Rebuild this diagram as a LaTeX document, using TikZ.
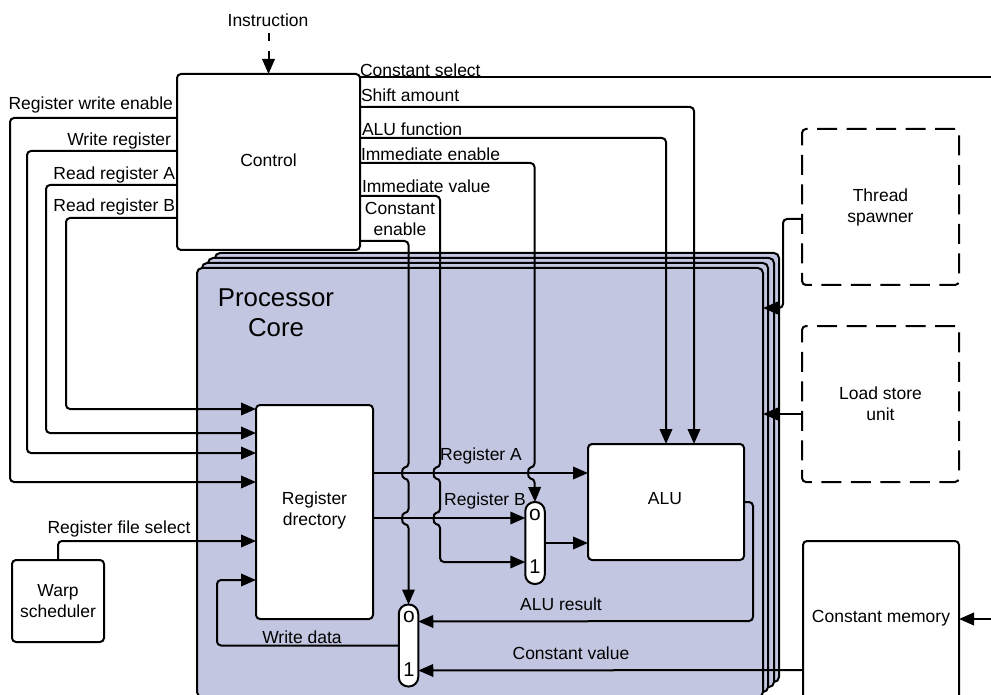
\documentclass[tikz,border=0pt]{standalone}
\usepackage{fontspec}
\setmainfont{Liberation Sans}
\usetikzlibrary{arrows.meta}
\definecolor{corefill}{HTML}{C3C6E0}
\tikzset{
  lab/.style={inner sep=0pt,outer sep=0pt,font=\fontsize{17.5}{21}\selectfont,align=center,text=black},
  box/.style={draw=black,fill=white,line width=2pt,rounded corners=4pt,outer sep=0pt,inner sep=0pt,
     font=\fontsize{17.5}{21}\selectfont,align=center},
  dbox/.style={box,dash pattern=on 20pt off 9.5pt},
  muxbox/.style={draw=black,fill=white,line width=2pt,rounded corners=9.4pt,outer sep=0pt,inner sep=0pt,
     minimum width=19.5pt,minimum height=82pt},
  layer/.style={draw=black,fill=corefill,line width=2pt,rounded corners=5pt},
  coreb/.style={layer,outer sep=0pt,inner sep=0pt},
  wire/.style={draw=black,line width=2pt,rounded corners=4pt},
  awire/.style={wire,-{Triangle[length=15pt,width=12.5pt]}},
}
\begin{document}
\begin{tikzpicture}[x=1pt,y=-1pt]
\clip (0,0) rectangle (991,695);
\fill[white] (0,0) rectangle (991,695);
% stacked layers
\draw[layer] (215,253) rectangle (779,682);
\draw[layer] (208,258) rectangle (774,687);
\draw[layer] (202,263) rectangle (768,692);
\node[coreb,minimum width=566pt,minimum height=429pt] (core) at (480,482.5) {};
\node[lab,font=\fontsize{25.8}{30}\selectfont] (coretitle) at (276,313) {Processor\\Core};
% boxes
\node[box,minimum width=183pt,minimum height=176pt] (ctrl) at (268.5,162) {};
\node[lab] (ctrltxt) at (268.5,160) {Control};
\node[box,minimum width=117pt,minimum height=214pt] (regd) at (314.5,512) {};
\node[lab] (regtxt) at (314.5,510) {Register\\drectory};
\node[box,minimum width=156pt,minimum height=116pt] (alu) at (666,502) {};
\node[lab] (alutxt) at (665,499) {ALU};
\node[box,minimum width=92pt,minimum height=82pt] (warp) at (58,601) {Warp\\scheduler};
\node[dbox,minimum width=157pt,minimum height=156pt] (ts) at (880.5,207) {Thread\\spawner};
\node[dbox,minimum width=157pt,minimum height=156pt] (ls) at (880.5,404) {Load store\\unit};
\node[box,minimum width=156pt,minimum height=160pt] (cm) at (881,621) {};
\node[lab] (cmtxt) at (881,618) {Constant memory};
\node[muxbox] (muxa) at (535,543) {};
\node[muxbox] (muxb) at (408.5,645.5) {};
\node[lab,font=\fontsize{21}{21}\selectfont] (muxa0) at (535,515) {o};
\node[lab,font=\fontsize{20}{21}\selectfont] (muxa1) at (535,567) {1};
\node[lab,font=\fontsize{21}{21}\selectfont] (muxb0) at (409,617) {o};
\node[lab,font=\fontsize{20}{21}\selectfont] (muxb1) at (409,670) {1};
% free ends
\node[lab,anchor=center] (instr) at (268,20) {Instruction};
\coordinate (instrtop) at (268.5,33);
\coordinate (csend) at (991,77);
\coordinate (cmin) at (991,619);
% top connectors
\draw[awire,rounded corners=0pt,dash pattern=on 8pt off 10pt] (instrtop) -- (ctrl.north);
\draw[wire] ([yshift=-3pt]ctrl.north east) -- (csend);
\draw[awire] ([yshift=-33pt]ctrl.north east) -- (694,107) -- (694,444);
\draw[awire] ([yshift=-64pt]ctrl.north east) -- (666,138) -- (alu.north);
\draw[awire] ([yshift=-89pt]ctrl.north east) -- (534.5,163) -- (534.5,467.5)
   .. controls +(-7.3,0) and +(-7.3,0) .. +(0,11) -- (muxa.north);
\draw[awire] ([yshift=-122pt]ctrl.north east) -- (440,196) -- (440,467.5)
   .. controls +(-7.3,0) and +(-7.3,0) .. +(0,11) -- (440,513)
   .. controls +(-7.3,0) and +(-7.3,0) .. +(0,11) -- (440,562) -- ([yshift=-60pt]muxa.north west);
\draw[awire] ([yshift=-167pt]ctrl.north east) -- (408.5,241) -- (408.5,467.5)
   .. controls +(-7.3,0) and +(-7.3,0) .. +(0,11) -- (408.5,513)
   .. controls +(-7.3,0) and +(-7.3,0) .. +(0,11) -- (muxb.north);
% left connectors
\draw[awire] ([yshift=-44pt]ctrl.north west) -- (10,118) -- (10,482) -- ([yshift=-77pt]regd.north west);
\draw[awire] ([yshift=-77pt]ctrl.north west) -- (27,151) -- (27,453) -- ([yshift=-48pt]regd.north west);
\draw[awire] ([yshift=-111pt]ctrl.north west) -- (46,185) -- (46,433) -- ([yshift=-28pt]regd.north west);
\draw[awire] ([yshift=-144pt]ctrl.north west) -- (66,218) -- (66,409) -- ([yshift=-4pt]regd.north west);
\draw[awire] (warp.north) -- (58,541) -- ([yshift=-136pt]regd.north west);
% datapath
\draw[awire] ([yshift=-68pt]regd.north east) -- ([yshift=-29pt]alu.north west);
\draw[awire] ([yshift=-113pt]regd.north east) -- ([yshift=-16pt]muxa.north west);
\draw[awire] (muxa.east) -- ([yshift=-99pt]alu.north west);
\draw[awire] ([yshift=-58pt]alu.north east) -- (753,502) -- (753,621) -- ([yshift=-17pt]muxb.north east);
\draw[awire] ([yshift=-129pt]cm.north west) -- ([yshift=-66pt]muxb.north east);
\draw[awire] (muxb.west) -- (217,645.5) -- (217,580) -- ([yshift=-175pt]regd.north west);
% side connectors
\draw[awire] ([yshift=-12pt]ts.west) -- (783,219) -- (783,308) -- ([yshift=-40pt]core.north east);
\draw[awire] ([yshift=-10pt]ls.west) -- ([yshift=-146pt]core.north east);
\draw[awire] (cmin) -- ([yshift=-78pt]cm.north east);
% labels
\node[lab,anchor=west] (l1) at (360,70) {Constant select};
\node[lab,anchor=west] (l2) at (361,95) {Shift amount};
\node[lab,anchor=west] (l3) at (362,129) {ALU function};
\node[lab,anchor=west] (l4) at (361,154) {Immediate enable};
\node[lab,anchor=west] (l5) at (362,186) {Immediate value};
\node[lab] (l6) at (400,218.5) {Constant\\enable};
\node[lab,anchor=east] (l7) at (173,104.5) {Register write enable};
\node[lab,anchor=east] (l8) at (171,141) {Write register};
\node[lab,anchor=east] (l9) at (175,175) {Read register A};
\node[lab,anchor=east] (l10) at (175,207) {Read register B};
\node[lab] (l11) at (119,529) {Register file select};
\node[lab] (l12) at (302,637) {Write data};
\node[lab] (l13) at (481,456) {Register A};
\node[lab] (l14) at (485,501) {Register B};
\node[lab] (l15) at (561,604) {ALU result};
\node[lab] (l16) at (571,653) {Constant value};
\end{tikzpicture}
\end{document}
